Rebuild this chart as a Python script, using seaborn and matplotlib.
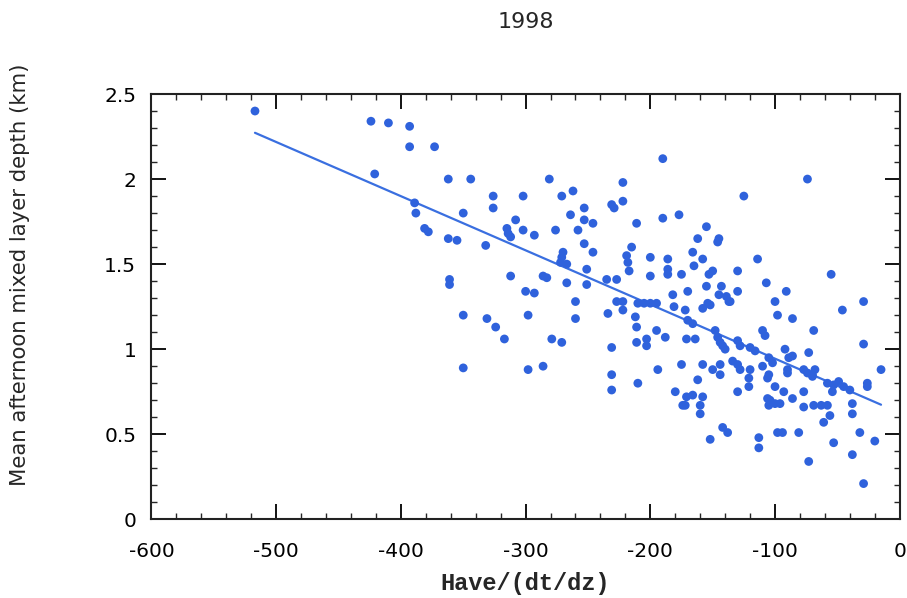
import numpy as np
import pandas as pd
import matplotlib
matplotlib.use("Agg")
import matplotlib.pyplot as plt
import seaborn as sns
from matplotlib.ticker import MultipleLocator

# ---- data ----
have_dtdz = [
    -517, -424, -410, -421, -393, -393, -373, -389, -388, -362, -344, -381, -378,
    -362, -355, -361, -361, -350, -332, -326, -326, -350, -350, -331, -324, -317,
    -308, -315, -314, -312, -302, -302, -312, -300, -298, -298,
    -281, -262, -271, -222, -222, -231, -229, -293, -276, -264, -253, -253, -246,
    -258, -211, -215, -253, -246, -270, -271, -272, -267, -219, -218, -217, -251,
    -235, -227, -251, -267, -286, -283, -293, -260, -260, -279, -271, -286, -234,
    -227, -222, -222, -212, -231, -211, -211, -231, -231, -210,
    -190, -177, -190, -200, -186, -186, -186, -175, -200, -182, -181, -210, -205,
    -200, -195, -203, -203, -195, -188, -194, -180, -175, -174, -125, -155, -162,
    -145, -146, -166, -158, -165, -114, -150, -153, -130, -155, -143, -107, -170,
    -145, -139, -137, -130, -154, -158, -152, -172, -170, -166, -136, -171, -164,
    -148, -146, -144, -142, -140, -130, -128, -120, -116, -105, -102, -110, -108,
    -158, -150, -144, -144, -134, -130, -128, -120, -121, -121, -110, -105, -106,
    -162, -130, -106, -104, -105, -171, -166, -158, -160, -160, -172, -142, -138,
    -152, -113, -113,
    -74, -100, -91, -55, -29, -46, -98, -86, -29, -15, -26, -26, -69, -73, -92,
    -89, -86, -90, -90, -77, -74, -70, -68, -70, -58, -53, -49, -45, -40, -54,
    -100, -93, -100, -96, -86, -77, -77, -69, -63, -58, -38, -38, -56, -61, -98,
    -94, -81, -53, -32, -20, -38, -73, -29,
]
mixed_depth = [
    2.40, 2.34, 2.33, 2.03, 2.31, 2.19, 2.19, 1.86, 1.80, 2.00, 2.00, 1.71, 1.69,
    1.65, 1.64, 1.41, 1.38, 1.80, 1.61, 1.90, 1.83, 1.20, 0.89, 1.18, 1.13, 1.06,
    1.76, 1.71, 1.68, 1.66, 1.90, 1.70, 1.43, 1.34, 1.20, 0.88,
    2.00, 1.93, 1.90, 1.98, 1.87, 1.85, 1.83, 1.67, 1.70, 1.79, 1.83, 1.76, 1.74,
    1.70, 1.74, 1.60, 1.62, 1.57, 1.57, 1.54, 1.51, 1.50, 1.55, 1.51, 1.46, 1.47,
    1.41, 1.41, 1.38, 1.39, 1.43, 1.42, 1.33, 1.28, 1.18, 1.06, 1.04, 0.90, 1.21,
    1.28, 1.28, 1.23, 1.19, 1.01, 1.13, 1.04, 0.85, 0.76, 0.80,
    2.12, 1.79, 1.77, 1.54, 1.53, 1.47, 1.44, 1.44, 1.43, 1.32, 1.25, 1.27, 1.27,
    1.27, 1.27, 1.06, 1.02, 1.11, 1.07, 0.88, 0.75, 0.91, 0.67, 1.90, 1.72, 1.65,
    1.65, 1.63, 1.57, 1.53, 1.49, 1.53, 1.46, 1.44, 1.46, 1.37, 1.37, 1.39, 1.34,
    1.32, 1.31, 1.28, 1.34, 1.27, 1.24, 1.26, 1.23, 1.17, 1.15, 1.28, 1.06, 1.06,
    1.11, 1.07, 1.04, 1.02, 1.00, 1.05, 1.02, 1.01, 0.99, 0.95, 0.92, 1.11, 1.08,
    0.91, 0.88, 0.91, 0.85, 0.93, 0.91, 0.88, 0.88, 0.83, 0.78, 0.90, 0.85, 0.83,
    0.82, 0.75, 0.71, 0.70, 0.67, 0.72, 0.73, 0.72, 0.67, 0.62, 0.67, 0.54, 0.51,
    0.47, 0.48, 0.42,
    2.00, 1.28, 1.34, 1.44, 1.28, 1.23, 1.20, 1.18, 1.03, 0.88, 0.80, 0.78, 1.11,
    0.98, 1.00, 0.95, 0.96, 0.88, 0.86, 0.88, 0.86, 0.85, 0.88, 0.84, 0.80, 0.79,
    0.81, 0.78, 0.76, 0.75, 0.78, 0.75, 0.68, 0.68, 0.71, 0.75, 0.66, 0.67, 0.67,
    0.67, 0.68, 0.62, 0.61, 0.57, 0.51, 0.51, 0.51, 0.45, 0.51, 0.46, 0.38, 0.34,
    0.21,
]
x_ticks = [-600, -500, -400, -300, -200, -100, 0]
y_ticks = [0, 0.5, 1, 1.5, 2, 2.5]
y_tick_labels = ["0", "0.5", "1", "1.5", "2", "2.5"]

df = pd.DataFrame({"x": have_dtdz, "y": mixed_depth})

sns.set_style("ticks")
plt.rcParams["font.family"] = ["DejaVu Sans"]

fig = plt.figure(figsize=(9.07, 5.98), dpi=100)
ax = fig.add_axes([0.167, 0.1316, 0.8250, 0.7112])

dot_color = "#2f62dc"
sns.scatterplot(data=df, x="x", y="y", ax=ax, color=dot_color, s=40,
                edgecolor="none", linewidth=0, zorder=3)
sns.regplot(data=df, x="x", y="y", ax=ax, scatter=False, ci=None,
            color="#3a6fe0", line_kws={"linewidth": 1.6, "zorder": 2})

ax.set_xlim(-600, 0)
ax.set_ylim(0, 2.5)
ax.set_xticks(x_ticks)
ax.set_xticklabels([str(v) for v in x_ticks])
ax.set_yticks(y_ticks)
ax.set_yticklabels(y_tick_labels)
ax.xaxis.set_minor_locator(MultipleLocator(20))
ax.yaxis.set_minor_locator(MultipleLocator(0.1))

ax.tick_params(which="major", direction="in", length=11, width=1.3,
               top=True, right=True, labelsize=14.5, colors="black")
ax.tick_params(axis="x", which="major", pad=16)
ax.tick_params(axis="y", which="major", pad=11)
ax.tick_params(which="minor", direction="in", length=4, width=1.0,
               top=True, right=True)
for sp in ax.spines.values():
    sp.set_visible(True)
    sp.set_linewidth(1.5)
    sp.set_color("#222222")

ax.set_xlabel("Have/(dt/dz)", family=["Liberation Mono", "DejaVu Sans Mono"],
              fontweight="bold", fontsize=17, labelpad=8)
ax.set_ylabel("Mean afternoon mixed layer depth (km)", fontsize=15.3)
ax.yaxis.set_label_coords(-0.162, 0.574)
ax.text(0.5, 1.169, "1998", transform=ax.transAxes, ha="center", va="center",
        fontsize=16)

fig.savefig("out.png", dpi=100)
